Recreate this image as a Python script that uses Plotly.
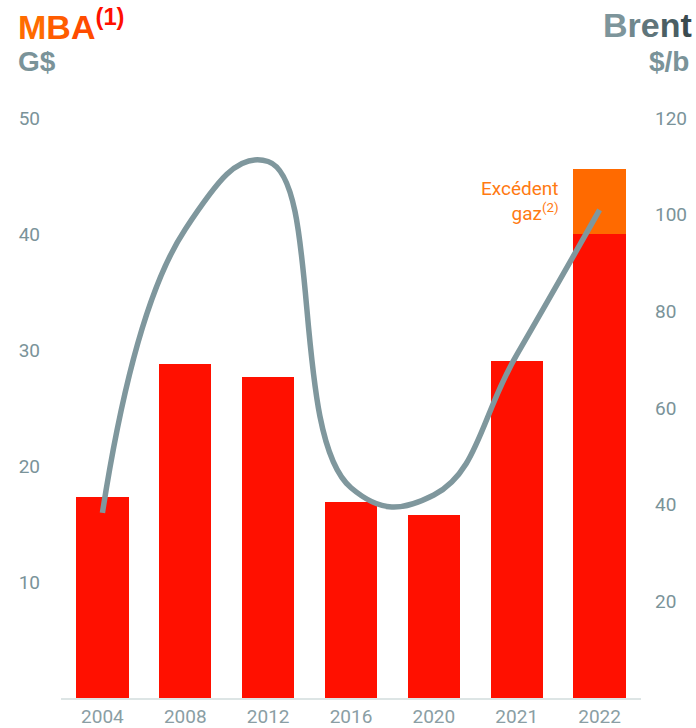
import plotly.graph_objects as go

# --- data ---
years = ["2004", "2008", "2012", "2016", "2020", "2021", "2022"]
mba = [17.35, 28.8, 27.7, 16.9, 15.8, 29.05, 40.0]          # G$
excedent_gaz = [None, None, None, None, None, None, 5.6]   # G$, stacked on 2022
brent = [38.3, 97, 111, 43.5, 42, 71, 101]                 # $/b

left_ticks = [10, 20, 30, 40, 50]
right_ticks = [20, 40, 60, 80, 100, 120]

RED = "#ff1000"
ORANGE = "#ff6a00"
GREY_LINE = "#7f979d"
GREY_TXT = "#7a9399"

fig = go.Figure()

fig.add_trace(go.Bar(x=years, y=mba, name="MBA", marker=dict(color=RED, line_width=0)))
fig.add_trace(go.Bar(x=years, y=excedent_gaz, name="Excédent gaz",
                     marker=dict(color=ORANGE, line_width=0)))
fig.add_trace(go.Scatter(x=years, y=brent, yaxis="y2", mode="lines", name="Brent",
                         line=dict(color=GREY_LINE, width=5.5, shape="spline", smoothing=1.3)))

tick_font = dict(family="Roboto", size=19, color=GREY_TXT)

fig.update_layout(
    width=696, height=728,
    margin=dict(l=61, r=55, t=118, b=30),
    paper_bgcolor="white", plot_bgcolor="white",
    barmode="stack", bargap=0.37,
    showlegend=False,
    xaxis=dict(showgrid=False, zeroline=False, showline=True, linecolor="#dde5e5", linewidth=2,
               tickfont=dict(family="Roboto", size=19, color="#8a9ea4"), ticks="",
               automargin=False),
    yaxis=dict(range=[0, 50], tickvals=left_ticks, showgrid=False, zeroline=False,
               tickfont=tick_font, ticklabelstandoff=20, automargin=False),
    yaxis2=dict(range=[0, 120], tickvals=right_ticks, overlaying="y", side="right",
                showgrid=False, zeroline=False, tickfont=tick_font, ticklabelstandoff=13,
                automargin=False),
)

title_font = dict(family="Liberation Sans, Arial", size=34)
fig.add_annotation(
    text="<b><span style='color:#ff6c00'>M</span><span style='color:#ff5c00'>B</span>"
         "<span style='color:#ff4c00'>A</span><sup><span style='color:#ff1000'>(1)</span></sup></b>",
    xref="paper", yref="paper", x=-0.078, y=1.162, xanchor="left", yanchor="middle",
    showarrow=False, font=title_font)
fig.add_annotation(text="<b>G$</b>", xref="paper", yref="paper", x=-0.078, y=1.097,
                   xanchor="left", yanchor="middle", showarrow=False,
                   font=dict(family="Liberation Sans, Arial", size=28, color=GREY_TXT))
fig.add_annotation(
    text="<b><span style='color:#7d959b'>B</span><span style='color:#70878d'>r</span>"
         "<span style='color:#5f757b'>e</span><span style='color:#4b5f64'>n</span>"
         "<span style='color:#3a4a4f'>t</span></b>",
    xref="paper", yref="paper", x=1.091, y=1.161, xanchor="right", yanchor="middle",
    showarrow=False, font=title_font)
fig.add_annotation(text="<b>$/b</b>", xref="paper", yref="paper", x=1.086, y=1.097,
                   xanchor="right", yanchor="middle", showarrow=False,
                   font=dict(family="Liberation Sans, Arial", size=28, color=GREY_TXT))

fig.add_annotation(text="Excédent<br>gaz<sup>(2)</sup>", xref="paper", yref="paper",
                   x=0.862, y=0.857, xanchor="right", yanchor="middle", align="right",
                   showarrow=False, font=dict(family="Roboto", size=19, color="#ff7a12"))

# drop the default 8px body margin so the figure fills the window exactly
fig.write_html("out.html", config={"displayModeBar": False},
               post_script="document.body.style.margin='0';")
